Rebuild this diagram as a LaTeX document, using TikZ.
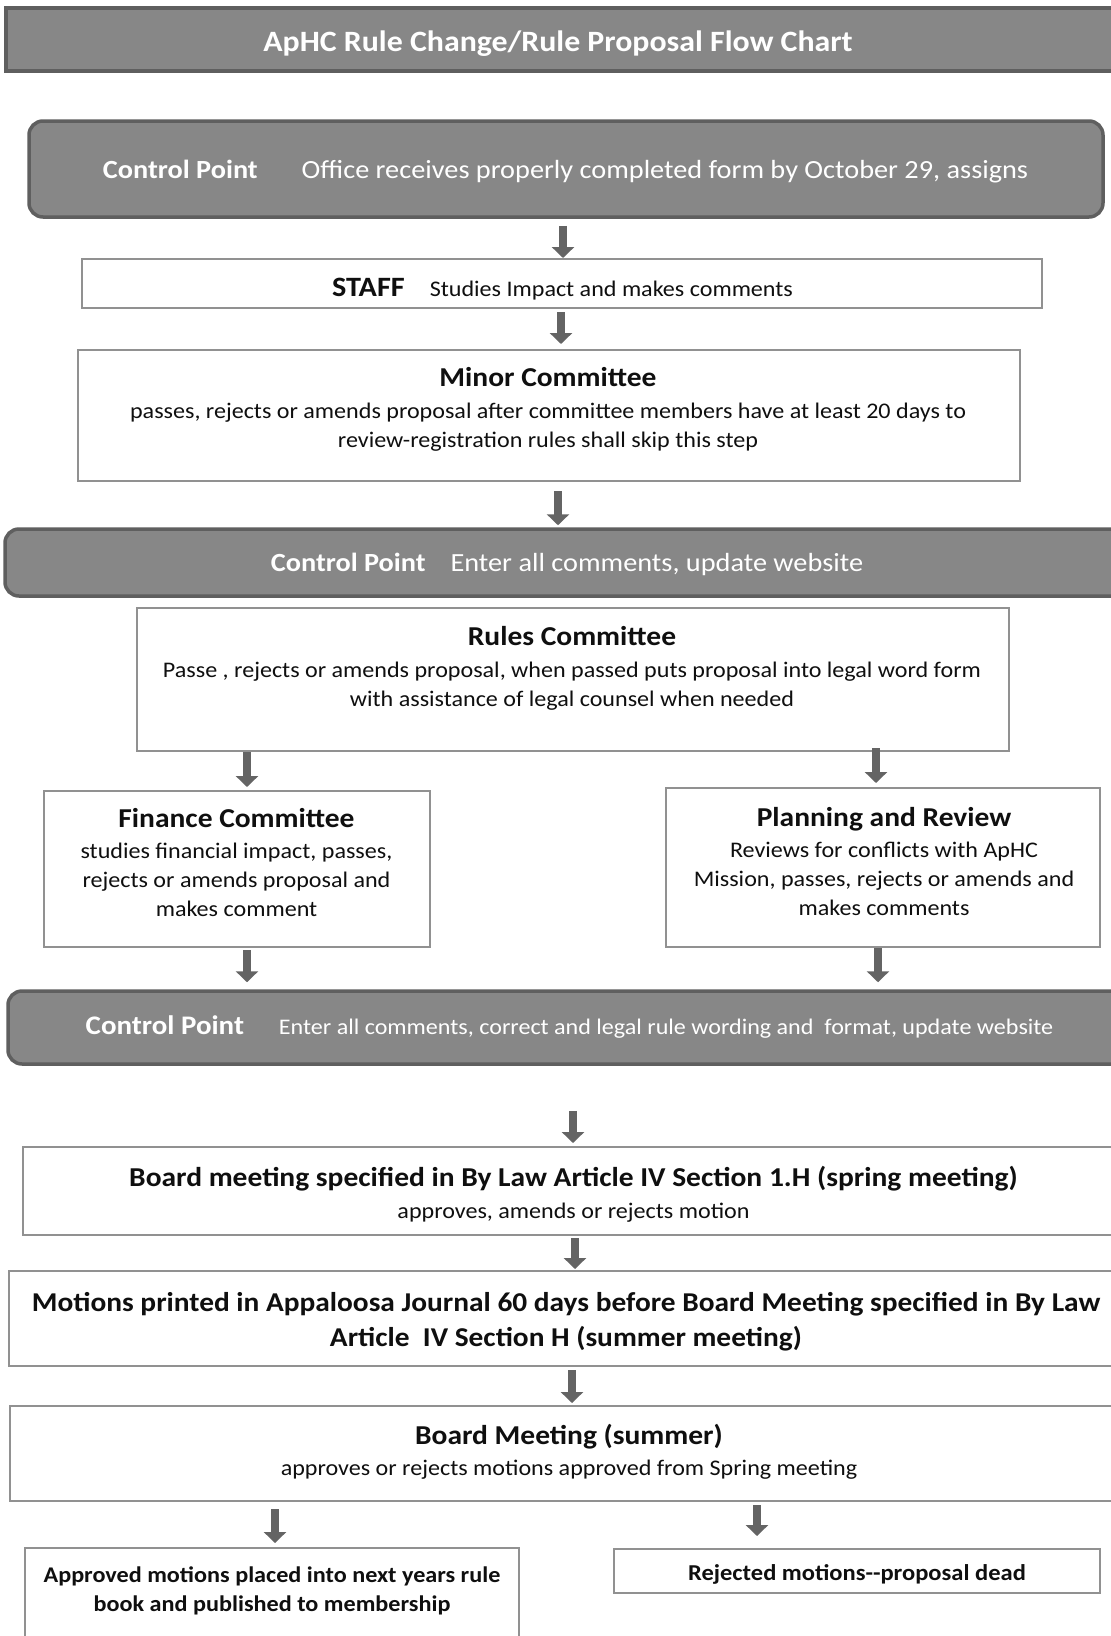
\documentclass[tikz,border=0pt]{standalone}
\usepackage{fontspec}
\setmainfont{Carlito}[FakeStretch=1.08]
\usetikzlibrary{arrows.meta}
\definecolor{cpfill}{RGB}{135,135,135}
\definecolor{cpline}{RGB}{95,95,95}
\definecolor{boxline}{RGB}{145,145,145}
\definecolor{arrcol}{RGB}{100,100,100}
\definecolor{txtcol}{RGB}{15,15,15}
\newcommand{\bodysize}{\fontsize{22.3}{29}\selectfont}
\newcommand{\headsize}{\fontsize{27.3}{32}\selectfont\bfseries}
\tikzset{
  cpbar/.style={draw=cpline, fill=cpfill, line width=3.5pt, rounded corners=14pt, inner sep=0pt},
  tbox/.style={draw=boxline, fill=white, line width=2pt, inner sep=0pt},
  wtxt/.style={text=white, align=center, inner sep=0pt},
  btxt/.style={text=txtcol, align=center, inner sep=0pt},
  arr/.style={draw=arrcol, line width=8pt, -{Triangle[length=11pt,width=22pt]}},
}
\begin{document}
\begin{tikzpicture}[x=1pt,y=-1pt]
  \useasboundingbox[fill=white] (0,0) rectangle (1111,1636);
  % bars
  \node[cpbar, rounded corners=0pt, minimum width=1119, minimum height=63] (titlebar) at (565.5,39.5) {};
  \node[wtxt, font=\fontsize{29.5}{36}\selectfont\bfseries] (title) at (558,44) {ApHC Rule Change/Rule Proposal Flow Chart};
  \node[cpbar, minimum width=1074, minimum height=96] (cp1) at (566,169) {};
  \node[wtxt, font=\fontsize{26.2}{32}\selectfont] (cp1t) at (565.5,172) {{\bfseries Control Point}\hspace{44pt}Office receives properly completed form by October 29, assigns};
  \node[tbox, minimum width=960, minimum height=49] (staff) at (562,283.5) {};
  \node[btxt, font=\bodysize] (stafft) at (562.5,289) {{\fontsize{28}{29}\selectfont\bfseries STAFF}\hspace{25pt}Studies Impact and makes comments};
  \node[tbox, minimum width=942, minimum height=131] (minor) at (549,415.5) {};
  \node[btxt, font=\bodysize] (minort) at (548,409) {{\headsize Minor Committee}\\[3pt]passes, rejects or amends proposal after committee members have at least 20 days to\\review-registration rules shall skip this step};
  \node[cpbar, minimum width=1125, minimum height=67] (cp2) at (567.5,562.5) {};
  \node[wtxt, font=\fontsize{26.2}{32}\selectfont] (cp2t) at (567,564) {{\bfseries Control Point}\hspace{25pt}Enter all comments, update website};
  \node[tbox, minimum width=872, minimum height=143] (rules) at (573,679.5) {};
  \node[btxt, font=\bodysize] (rulest) at (572,668) {{\headsize Rules Committee}\\[3pt]Passe , rejects or amends proposal, when passed puts proposal into legal word form\\with assistance of legal counsel when needed};
  \node[tbox, minimum width=386, minimum height=156] (finance) at (237,869) {};
  \node[btxt, font=\bodysize] (financet) at (236.5,862) {{\headsize Finance Committee}\\[2pt]studies financial impact, passes,\\rejects or amends proposal and\\makes comment};
  \node[tbox, minimum width=434, minimum height=159] (planning) at (883,867.5) {};
  \node[btxt, font=\bodysize] (planningt) at (884,861.5) {{\headsize Planning and Review}\\[2pt]Reviews for conflicts with ApHC\\Mission, passes, rejects or amends and\\makes comments};
  \node[cpbar, minimum width=1122, minimum height=73] (cp3) at (569,1027.5) {};
  \node[wtxt, font=\bodysize] (cp3t) at (569.5,1027) {{\fontsize{26.8}{32}\selectfont\bfseries Control Point}\hspace{35pt}Enter all comments, correct and legal rule wording and\ \ format, update website};
  \node[tbox, minimum width=1107, minimum height=88] (spring) at (576.5,1191) {};
  \node[btxt, font=\bodysize] (springt) at (573.5,1194.5) {{\headsize Board meeting specified in By Law Article IV Section 1.H (spring meeting)}\\[3pt]approves, amends or rejects motion};
  \node[tbox, minimum width=1121, minimum height=95] (motions) at (569.5,1318.5) {};
  \node[btxt, font=\fontsize{27.2}{35}\selectfont\bfseries] (motionst) at (566,1321.5) {Motions printed in Appaloosa Journal 60 days before Board Meeting specified in By Law\\Article\ \ IV Section H (summer meeting)};
  \node[tbox, minimum width=1120, minimum height=95] (summer) at (570,1453.5) {};
  \node[btxt, font=\bodysize] (summert) at (569,1451.5) {{\headsize Board Meeting (summer)}\\[2pt]approves or rejects motions approved from Spring meeting};
  \node[tbox, minimum width=494, minimum height=112] (approved) at (272,1604) {};
  \node[btxt, font=\fontsize{22.4}{29}\selectfont\bfseries] (approvedt) at (272,1591) {Approved motions placed into next years rule\\book and published to membership};
  \node[tbox, minimum width=486, minimum height=44] (rejected) at (857,1571) {};
  \node[btxt, font=\fontsize{22.7}{29}\selectfont\bfseries] (rejectedt) at (857,1574) {Rejected motions-{}-proposal dead};
  % arrows
  \draw[arr] ([yshift=-7pt]cp1.south -| 563,0) -- (staff.north -| 563,0);
  \draw[arr] ([yshift=-3pt]staff.south -| 561,0) -- ([yshift=5pt]minor.north -| 561,0);
  \draw[arr] ([yshift=-9pt]minor.south -| 558,0) -- ([yshift=2pt]cp2.north -| 558,0);
  \draw[arr] (rules.south -| 247,0) -- ([yshift=3pt]finance.north -| 247,0);
  \draw[arr] ([yshift=4pt]rules.south -| 876,0) -- ([yshift=4pt]planning.north -| 876,0);
  \draw[arr] ([yshift=-2pt]finance.south -| 247,0) -- ([yshift=7pt]cp3.north -| 247,0);
  \draw[arr] (planning.south -| 878,0) -- ([yshift=7pt]cp3.north -| 878,0);
  \draw[arr] ([yshift=-45pt]cp3.south -| 573,0) -- ([yshift=3pt]spring.north -| 573,0);
  \draw[arr] ([yshift=-2pt]spring.south -| 575,0) -- ([yshift=1pt]motions.north -| 575,0);
  \draw[arr] ([yshift=-3pt]motions.south -| 572,0) -- ([yshift=2pt]summer.north -| 572,0);
  \draw[arr] ([yshift=-7pt]summer.south -| 275,0) -- ([yshift=4pt]approved.north -| 275,0);
  \draw[arr] ([yshift=-3pt]summer.south -| 757,0) -- ([yshift=12pt]rejected.north -| 757,0);
\end{tikzpicture}
\end{document}
